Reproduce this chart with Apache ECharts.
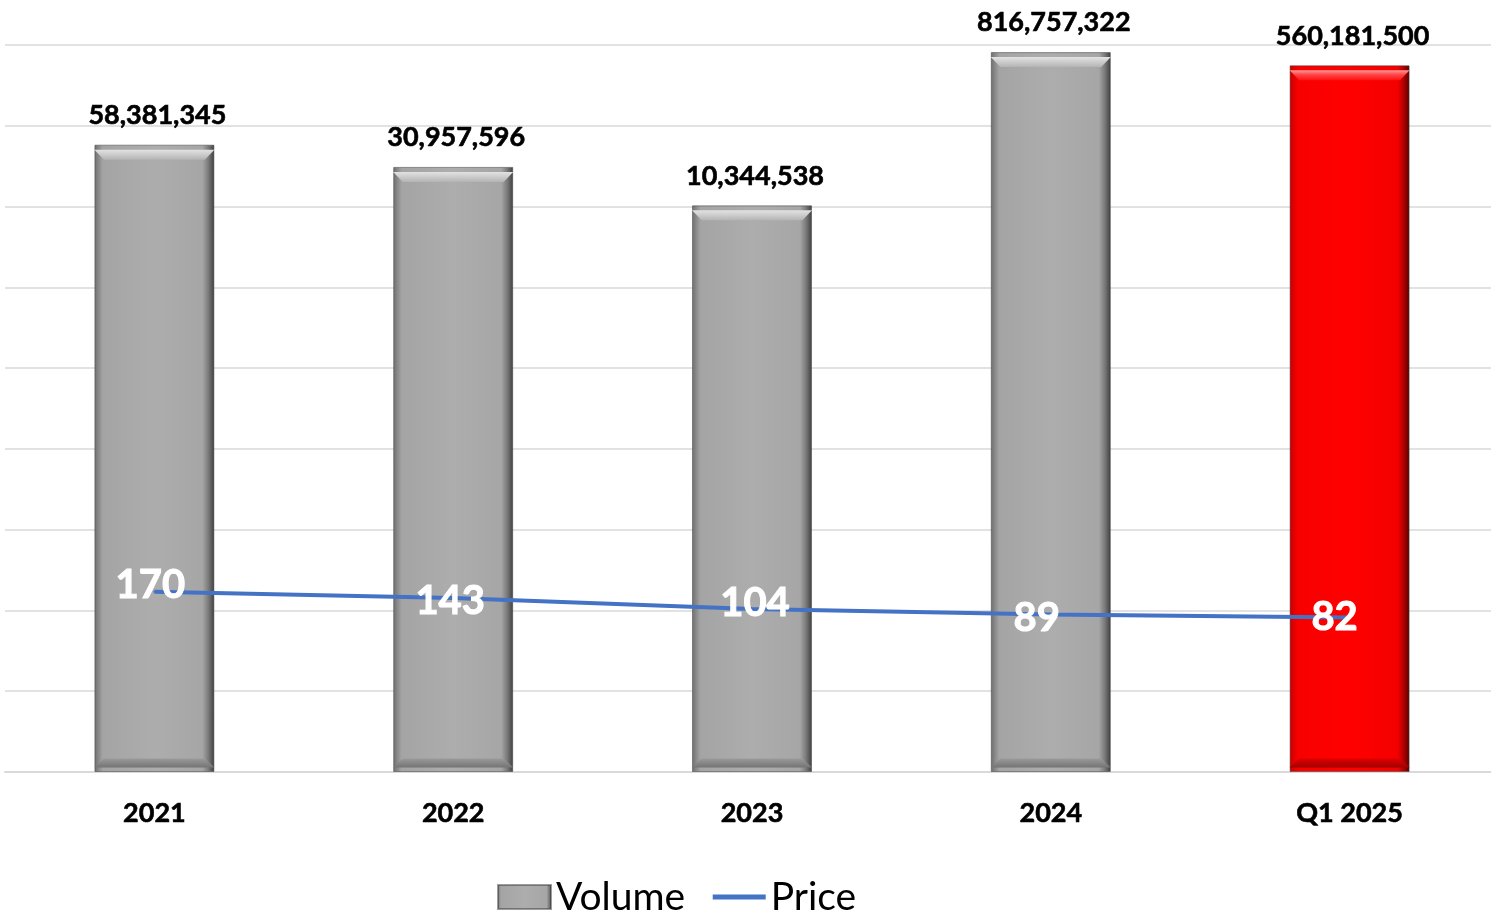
<!DOCTYPE html>
<html><head><meta charset="utf-8">
<script src="https://cdn.jsdelivr.net/npm/echarts@6/dist/echarts.min.js"></script>
<style>html,body{margin:0;padding:0;background:#fff}#c{width:1491px;height:917px}</style>
</head><body><div id="c"></div>
<script>
const categories = ['2021', '2022', '2023', '2024', 'Q1 2025'];
const volume = [58381345, 30957596, 10344538, 816757322, 560181500];
const price = [170, 143, 104, 89, 82];
const highlightIndex = 4;

// label nudges (styling only)
const priceLabelNudge = [[-4, -7], [-3, 3], [3, -6], [-14, 4], [-15, 0]];

const FONT = 'Lato';
function grayGrad() {
  return new echarts.graphic.LinearGradient(0, 0, 1, 0, [
    {offset: 0, color: '#6e6e6e'}, {offset: 0.07, color: '#a4a4a4'},
    {offset: 0.5, color: '#adadad'}, {offset: 0.9, color: '#a6a6a6'},
    {offset: 0.95, color: '#7a7a7a'}, {offset: 1, color: '#3e3e3e'}]);
}
function redGrad() {
  return new echarts.graphic.LinearGradient(0, 0, 1, 0, [
    {offset: 0, color: '#c80000'}, {offset: 0.07, color: '#f80000'},
    {offset: 0.5, color: '#ff0000'}, {offset: 0.9, color: '#f40000'},
    {offset: 0.95, color: '#b00000'}, {offset: 1, color: '#5a0000'}]);
}
function topGrad(red) {
  return new echarts.graphic.LinearGradient(0, 0, 0, 1, red ? [
    {offset: 0, color: '#ff9a9a'}, {offset: 0.4, color: '#ff4a4a'}, {offset: 1, color: '#ff1010'}] : [
    {offset: 0, color: '#e2e2e2'}, {offset: 0.4, color: '#d0d0d0'}, {offset: 1, color: '#b4b4b4'}]);
}
function bottomGrad(red) {
  return new echarts.graphic.LinearGradient(0, 0, 0, 1, red ? [
    {offset: 0, color: '#e00000'}, {offset: 1, color: '#a00000'}] : [
    {offset: 0, color: '#9a9a9a'}, {offset: 1, color: '#747474'}]);
}
const fmt = v => v.toLocaleString('en-US');

const chart = echarts.init(document.getElementById('c'));
chart.setOption({
  animation: false,
  backgroundColor: '#fff',
  grid: {left: 5, width: 1494, top: 45, bottom: 145, containLabel: false, outerBoundsMode: 'none'},
  legend: {
    data: [{name: 'Volume', icon: 'rect', itemStyle: {color: grayGrad()}},
           {name: 'Price', itemStyle: {opacity: 0}, lineStyle: {width: 5, color: '#4472c4'}}],
    left: 492, top: 871, itemWidth: 53, itemHeight: 24, itemGap: 25,
    textStyle: {fontFamily: FONT, fontSize: 39, color: '#000', lineHeight: 42}
  },
  xAxis: {
    type: 'category', data: categories,
    axisLine: {lineStyle: {color: '#d9d9d9', width: 2}},
    axisTick: {show: false},
    axisLabel: {fontFamily: FONT, fontSize: 27, fontWeight: 'bold', color: '#000', margin: 28,
      textBorderColor: '#000', textBorderWidth: 0.6}
  },
  yAxis: {
    type: 'log', logBase: 10, min: 1, max: 1e9,
    axisLabel: {show: false}, axisLine: {show: false}, axisTick: {show: false},
    splitLine: {lineStyle: {color: '#d9d9d9', width: 1.5}}
  },
  series: [
    {
      name: 'Volume', type: 'bar', barWidth: 120, z: 2,
      data: volume.map((v, i) => ({value: v, itemStyle: {color: i === highlightIndex ? redGrad() : grayGrad()}})),
      itemStyle: {borderColor: 'rgba(60,60,60,0.5)', borderWidth: 1},
      label: {show: true, position: 'top', distance: 16, offset: [3, 0], fontFamily: FONT, fontSize: 27, fontWeight: 'bold', color: '#000',
        textBorderColor: '#000', textBorderWidth: 0.6, formatter: p => fmt(p.value)}
    },
    {
      name: 'bevelTop', type: 'pictorialBar', barWidth: 120, z: 3, silent: true,
      symbol: 'path://M0,0 L100,0 L92,8 L8,8 Z', symbolSize: [120, 10], symbolPosition: 'end', symbolOffset: [0, '50%'],
      data: volume.map((v, i) => ({value: v, itemStyle: {color: topGrad(i === highlightIndex)}})),
      label: {show: false}
    },
    {
      name: 'bevelBottom', type: 'pictorialBar', barWidth: 120, z: 3, silent: true,
      symbol: 'path://M8,0 L92,0 L100,8 L0,8 Z', symbolSize: [120, 9], symbolPosition: 'start', symbolOffset: [0, '-50%'],
      data: volume.map((v, i) => ({value: v, itemStyle: {color: bottomGrad(i === highlightIndex)}})),
      label: {show: false}
    },
    {
      name: 'Price', type: 'line', z: 5,
      data: price.map((v, i) => ({value: v, label: {offset: priceLabelNudge[i]}})),
      symbol: 'circle', symbolSize: 2,
      itemStyle: {color: '#4472c4'},
      lineStyle: {color: '#4472c4', width: 4},
      label: {show: true, position: 'inside', fontFamily: FONT, fontSize: 40, fontWeight: 'bold', color: '#fff',
        textBorderColor: '#fff', textBorderWidth: 1}
    }
  ]
});
</script></body></html>
